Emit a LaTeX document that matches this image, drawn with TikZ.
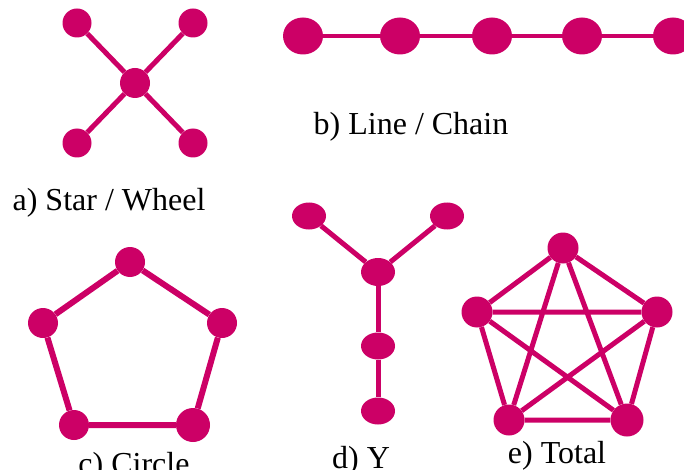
\documentclass[tikz,border=0pt]{standalone}
\usepackage{fontspec}
\setmainfont{Liberation Serif}
\usetikzlibrary{shapes.geometric}
\definecolor{mag}{RGB}{204,0,102}
\tikzset{
  dot/.style={circle,fill=mag,draw=none,inner sep=0pt,minimum size=#1},
  dot/.default=29pt,
  oval/.style={ellipse,fill=mag,draw=none,inner sep=0pt,minimum width=#1,minimum height=27pt},
  oval/.default=34pt,
  link/.style={draw=mag,line width=5pt},
  lbl/.style={anchor=base,inner sep=0pt,font=\fontsize{32}{38}\selectfont}
}
\begin{document}
\begin{tikzpicture}[x=1pt,y=-1pt]
\useasboundingbox (0,0) rectangle (684,470);
% a) star
\node[dot=30pt] (sc) at (135,83) {};
\node[dot] (s1) at (77,23) {};
\node[dot] (s2) at (193,23) {};
\node[dot] (s3) at (77,143) {};
\node[dot] (s4) at (193,143) {};
\foreach \n in {s1,s2,s3,s4} \draw[link] (sc) -- (\n);
\node[lbl] (la) at (109,211) {a) Star / Wheel};
% b) chain
\node[oval=40pt,minimum height=37pt] (c1) at (303,36) {};
\node[oval=40pt,minimum height=37pt] (c2) at (400,36) {};
\node[oval=40pt,minimum height=37pt] (c3) at (492,36) {};
\node[oval=40pt,minimum height=37pt] (c4) at (582,36) {};
\node[oval=40pt,minimum height=37pt] (c5) at (673,36) {};
\draw[link,line width=4pt] (c1) -- (c2) -- (c3) -- (c4) -- (c5);
\node[lbl] (lb) at (411,135) {b) Line / Chain};
% c) circle
\node[dot=30pt] (p1) at (130,262) {};
\node[dot=30pt] (p2) at (43,323) {};
\node[dot=30pt] (p3) at (222,323) {};
\node[dot=30pt] (p4) at (74,425) {};
\node[dot=34pt] (p5) at (193,425) {};
\draw[link,line width=6pt] (p1) -- (p3) -- (p5) -- (p4) -- (p2) -- (p1);
\node[lbl] (lc) at (134,474) {c) Circle};
% d) Y
\node[oval] (y1) at (309,216) {};
\node[oval] (y2) at (447,216) {};
\node[oval,minimum height=28pt] (y3) at (378,272) {};
\node[oval] (y4) at (378,346) {};
\node[oval] (y5) at (378,411) {};
\draw[link] (y1) -- (y3) -- (y2);
\draw[link] (y3) -- (y4) -- (y5);
\node[lbl] (ld) at (361,468) {d) Y};
% e) total
\node[dot=31pt] (t1) at (563,248) {};
\node[dot=31pt] (t2) at (477,312) {};
\node[dot=31pt] (t3) at (657,312) {};
\node[dot=31pt] (t4) at (509,420) {};
\node[dot=33pt] (t5) at (627,420) {};
\draw[link] (t1) -- (t2) (t1) -- (t3) (t1) -- (t4) (t1) -- (t5)
            (t2) -- (t3) (t2) -- (t4) (t2) -- (t5)
            (t3) -- (t4) (t3) -- (t5) (t4) -- (t5);
\node[lbl] (le) at (557,463) {e) Total};
\end{tikzpicture}
\end{document}
